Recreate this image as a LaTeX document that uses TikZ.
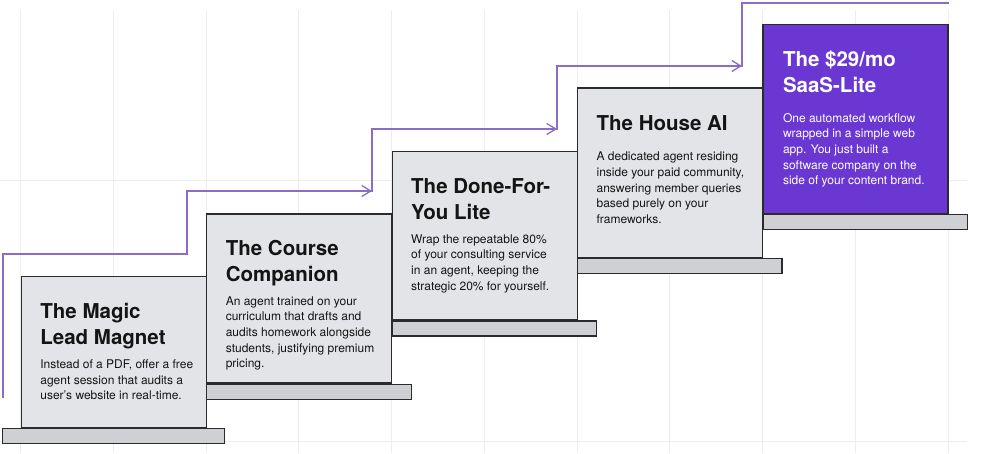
\documentclass[tikz,border=0pt]{standalone}
\usepackage{fontspec}
\setmainfont{TeX Gyre Heros}
\usepackage{tikz}
\usetikzlibrary{arrows.meta,positioning,calc}

\definecolor{cardgray}{HTML}{E3E4E7}
\definecolor{ledgegray}{HTML}{CFD0D4}
\definecolor{edgegray}{HTML}{2B2B2B}
\definecolor{saaspurple}{HTML}{6B37D2}
\definecolor{flowpurple}{HTML}{8B6CC6}
\definecolor{gridgray}{HTML}{EDEDEF}
\definecolor{inkblack}{HTML}{141414}

\tikzset{
    card/.style={draw=edgegray, line width=1.2pt, fill=cardgray, anchor=north west, minimum width=185pt, inner sep=0pt},
    ledge/.style={draw=edgegray, line width=1.2pt, fill=ledgegray, anchor=north west, minimum height=15pt, inner sep=0pt},
    cardtitle/.style={anchor=base west, inner sep=0pt, text=inkblack, font=\bfseries\fontsize{20.5}{25.7}\selectfont},
    cardbody/.style={anchor=base west, inner sep=0pt, text=inkblack, font=\fontsize{12}{15.7}\selectfont},
    flow/.style={draw=flowpurple, line width=1.3pt, line cap=rect},
    flowtip/.style={-{Straight Barb[length=9pt,width=11pt]}},
}

\begin{document}
\begin{tikzpicture}[x=1pt, y=-1pt]
    \fill[white] (0,0) rectangle (983,453);
    \useasboundingbox (0,0) rectangle (983,453);

    % faint background grid
    \foreach \gx in {0,...,10}
        \draw[gridgray, line width=0.8pt] (20.7+92.73*\gx,10) -- (20.7+92.73*\gx,453);
    \draw[gridgray, line width=0.8pt] (0,180) -- (967,180);
    \draw[gridgray, line width=0.8pt] (0,441.7) -- (967,441.7);

    % climbing path
    \coordinate (f0) at (3,397);
    \coordinate (f1) at (187,254);
    \coordinate (f2) at (372,191);
    \coordinate (f3) at (557,129);
    \coordinate (f4) at (742,66);
    \coordinate (f5) at (948,3);
    \draw[flow] (f0) |- (f1);
    \draw[flow, flowtip] (f1) |- (f2);
    \draw[flow, flowtip] (f2) |- (f3);
    \draw[flow, flowtip] (f3) |- (f4);
    \draw[flow] (f4) |- (f5);

    % step 1
    \node[card, minimum height=151pt] (magnet) at (20.7,276) {};
    \node[ledge, minimum width=222pt] (magnetledge) at ($(magnet.south west)+(-18.7,0)$) {};
    \node[cardtitle] (magnettitle) at ($(magnet.north west)+(19.5,42.5)$) {
        \begin{tabular}[t]{@{}l@{}}
            The Magic \\ Lead Magnet
        \end{tabular}
    };
    \node[cardbody] (magnetbody) at ($(magnet.north west)+(19.5,92.5)$) {
        \begin{tabular}[t]{@{}l@{}}
            Instead of a PDF, offer a free \\ agent session that audits a \\ user's website in real-time.
        \end{tabular}
    };

    % step 2
    \node[card, minimum height=169pt] (course) at (206.1,213.3) {};
    \node[ledge, minimum width=204.5pt] (courseledge) at (course.south west) {};
    \node[cardtitle] (coursetitle) at ($(course.north west)+(19.5,42)$) {
        \begin{tabular}[t]{@{}l@{}}
            The Course \\ Companion
        \end{tabular}
    };
    \node[cardbody] (coursebody) at ($(course.north west)+(19.5,91.7)$) {
        \begin{tabular}[t]{@{}l@{}}
            An agent trained on your \\ curriculum that drafts and \\ audits homework alongside \\ students, justifying premium \\ pricing.
        \end{tabular}
    };

    % step 3
    \node[card, minimum height=168.5pt] (dfy) at (391.5,150.7) {};
    \node[ledge, minimum width=204.5pt] (dfyledge) at (dfy.south west) {};
    \node[cardtitle] (dfytitle) at ($(dfy.north west)+(19.5,43)$) {
        \begin{tabular}[t]{@{}l@{}}
            The Done-For- \\ You Lite
        \end{tabular}
    };
    \node[cardbody] (dfybody) at ($(dfy.north west)+(19.5,92.5)$) {
        \begin{tabular}[t]{@{}l@{}}
            Wrap the repeatable 80\% \\ of your consulting service \\ in an agent, keeping the \\ strategic 20\% for yourself.
        \end{tabular}
    };

    % step 4
    \node[card, minimum height=169.5pt] (house) at (576.9,87.3) {};
    \node[ledge, minimum width=204.5pt] (houseledge) at (house.south west) {};
    \node[cardtitle] (housetitle) at ($(house.north west)+(19.5,43.4)$) {The House AI};
    \node[cardbody] (housebody) at ($(house.north west)+(19.5,73.4)$) {
        \begin{tabular}[t]{@{}l@{}}
            A dedicated agent residing \\ inside your paid community, \\ answering member queries \\ based purely on your \\ frameworks.
        \end{tabular}
    };

    % step 5
    \node[card, fill=saaspurple, minimum height=189pt] (saas) at (762.3,24) {};
    \node[ledge, minimum width=204.5pt] (saasledge) at (saas.south west) {};
    \node[cardtitle, text=white] (saastitle) at ($(saas.north west)+(20.5,42.5)$) {
        \begin{tabular}[t]{@{}l@{}}
            The \$29/mo \\ SaaS-Lite
        \end{tabular}
    };
    \node[cardbody, text=white] (saasbody) at ($(saas.north west)+(20.5,98)$) {
        \begin{tabular}[t]{@{}l@{}}
            One automated workflow \\ wrapped in a simple web \\ app. You just built a \\ software company on the \\ side of your content brand.
        \end{tabular}
    };
\end{tikzpicture}
\end{document}
